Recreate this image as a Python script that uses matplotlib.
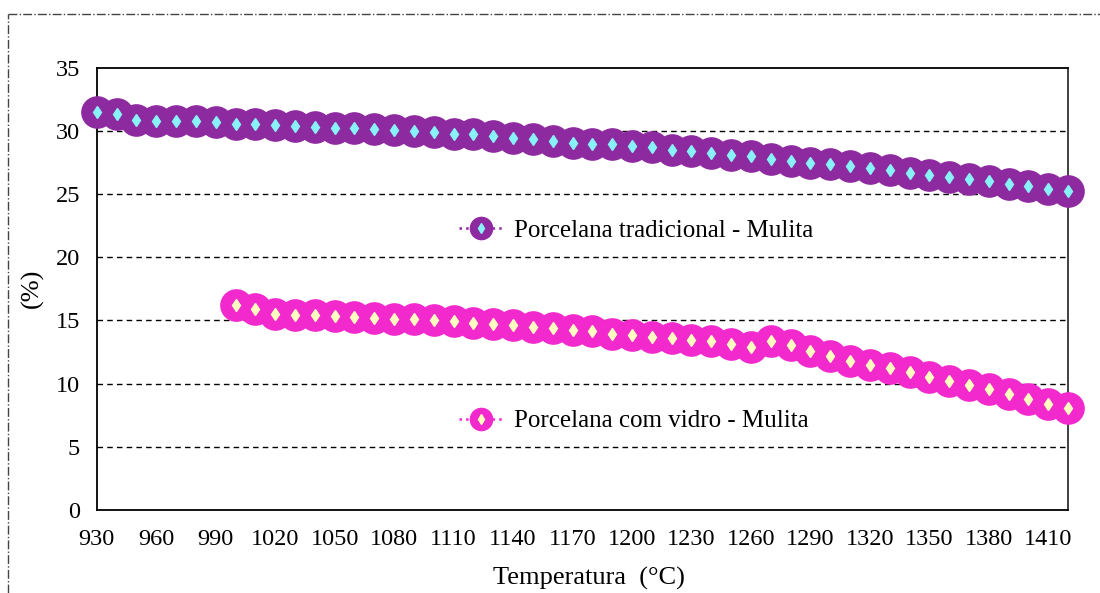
import numpy as np
import matplotlib
matplotlib.use("Agg")
import matplotlib.pyplot as plt
from matplotlib.lines import Line2D

plt.rcParams['font.family'] = ['Liberation Serif', 'DejaVu Serif']

# Porcelana tradicional - Mulita (930..1420 step 10)
temp_trad = list(range(930, 1421, 10))
mulita_trad = [31.45, 31.3, 30.87, 30.76, 30.76, 30.76, 30.68, 30.55, 30.55, 30.47,
               30.36, 30.28, 30.23, 30.23, 30.15, 30.07, 30.02, 29.94, 29.76, 29.71,
               29.58, 29.45, 29.37, 29.18, 29.05, 28.97, 28.92, 28.76, 28.71, 28.52,
               28.39, 28.23, 28.1, 28.0, 27.78, 27.6, 27.47, 27.34, 27.18, 27.05,
               26.86, 26.68, 26.52, 26.34, 26.15, 26.02, 25.81, 25.62, 25.42, 25.2]

# Porcelana com vidro - Mulita (1000..1420 step 10)
temp_vidro = list(range(1000, 1421, 10))
mulita_vidro = [16.2, 15.88, 15.49, 15.46, 15.41, 15.33, 15.27, 15.22, 15.14, 15.14,
                15.01, 14.93, 14.83, 14.75, 14.67, 14.48, 14.4, 14.25, 14.15, 13.95,
                13.85, 13.7, 13.6, 13.45, 13.35, 13.1, 12.9, 13.4, 13.05, 12.6,
                12.15, 11.8, 11.5, 11.2, 10.88, 10.53, 10.19, 9.88, 9.56, 9.14,
                8.77, 8.37, 8.03]

x_ticks = list(range(930, 1411, 30))
y_ticks = list(range(0, 36, 5))

purple = "#8E2AA0"
cyan = "#88F2F8"
magenta = "#F22ACD"
cream = "#FFFFC0"

fig = plt.figure(figsize=(11, 5.93), dpi=100)
ax = fig.add_axes([0.088, 0.14, 0.883, 0.746])

# outer dash-dot frame
fig.add_artist(Line2D([8 / 1100, 1.0], [1 - 14 / 593] * 2, transform=fig.transFigure,
                      color="#444444", linestyle="-.", linewidth=1.0))
fig.add_artist(Line2D([8 / 1100] * 2, [0.0, 1 - 14 / 593], transform=fig.transFigure,
                      color="#444444", linestyle="-.", linewidth=1.0))

def draw_series(x, y, face, inner):
    ax.plot(x, y, linestyle=":", color=face, linewidth=1.5, zorder=3, clip_on=False)
    ax.plot(x, y, linestyle="none", marker="o", markersize=22.5, markerfacecolor=face,
            markeredgecolor=face, zorder=4, clip_on=False)
    ax.plot(x, y, linestyle="none", marker="d", markersize=6, markerfacecolor=inner,
            markeredgecolor=inner, zorder=5, clip_on=False)

draw_series(temp_trad, mulita_trad, purple, cyan)
draw_series(temp_vidro, mulita_vidro, magenta, cream)

ax.set_xlim(930, 1420)
ax.set_ylim(0, 35)
ax.set_xticks(x_ticks)
ax.set_yticks(y_ticks)
ax.tick_params(axis="both", length=0, labelsize=17.5)
ax.tick_params(axis="x", pad=14)
ax.tick_params(axis="y", pad=12)
for y in y_ticks[1:-1]:
    ax.axhline(y, color="black", linestyle=(0, (4, 3)), linewidth=1.0, zorder=1)
for s in ax.spines.values():
    s.set_linewidth(1.3)
    s.set_color("black")
ax.spines["right"].set_color("#333333")

ax.set_xlabel("Temperatura  (°C)", fontsize=19, labelpad=12)
ax.xaxis.set_label_coords(0.507, -0.128)
ax.set_ylabel("(%)", fontsize=19)
ax.yaxis.set_label_coords(-0.054, 0.5)

def legend_handle(face, inner):
    return (Line2D([], [], linestyle=":", color=face, linewidth=1.8),
            Line2D([], [], linestyle="none", marker="o", markersize=16,
                   markerfacecolor=face, markeredgecolor=face),
            Line2D([], [], linestyle="none", marker="d", markersize=5,
                   markerfacecolor=inner, markeredgecolor=inner))

leg1 = ax.legend([legend_handle(purple, cyan)], ["Porcelana tradicional - Mulita"],
                 loc="center left", bbox_to_anchor=(0.35, 0.631), frameon=False,
                 fontsize=18, handlelength=1.7, handletextpad=0.5)
ax.add_artist(leg1)
ax.legend([legend_handle(magenta, cream)], ["Porcelana com vidro - Mulita"],
          loc="center left", bbox_to_anchor=(0.35, 0.201), frameon=False,
          fontsize=18, handlelength=1.7, handletextpad=0.5)

fig.savefig("out.png", dpi=100)
